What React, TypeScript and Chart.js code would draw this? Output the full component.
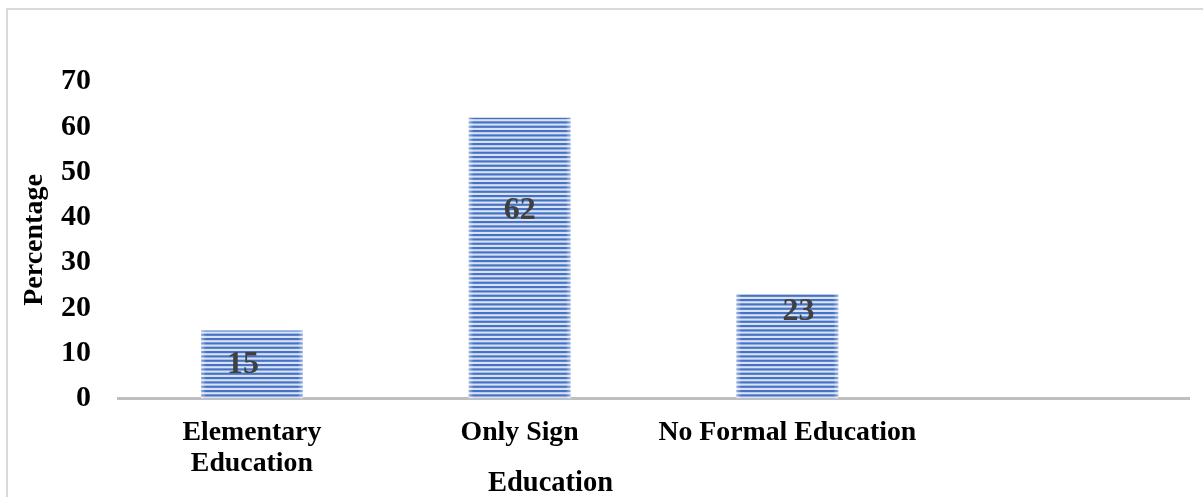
import React, { useEffect, useRef } from "react";
import { Chart, registerables } from "chart.js";

Chart.register(...registerables);

const categories: (string | string[])[] = [
  ["Elementary", "Education"],
  "Only Sign",
  "No Formal Education",
  "",
];
const percentages: (number | null)[] = [15, 62, 23, null];
const yTicks: number[] = [0, 10, 20, 30, 40, 50, 60, 70];

const SERIF = '"Liberation Serif", "Times New Roman", serif';
const BLUE = "#4472C4";
const STRIPE_LIGHT = "#D9E1F2";

// Fine horizontal stripes used as the bar fill.
function makeStripePattern(ctx: CanvasRenderingContext2D): CanvasPattern | string {
  const tile = document.createElement("canvas");
  tile.width = 8;
  tile.height = 13;
  const t = tile.getContext("2d");
  if (!t) return BLUE;
  t.fillStyle = STRIPE_LIGHT;
  t.fillRect(0, 0, 8, 13);
  t.fillStyle = BLUE;
  const period = 13 / 3;
  for (let i = 0; i < 3; i++) {
    t.fillRect(0, i * period, 8, period * 0.5);
  }
  return ctx.createPattern(tile, "repeat") || BLUE;
}

// Value labels on the bars, with small per-bar nudges.
const valueLabels = {
  id: "valueLabels",
  afterDatasetsDraw(chart: any, _args: any, opts: any) {
    const ctx = chart.ctx as CanvasRenderingContext2D;
    const meta = chart.getDatasetMeta(0);
    const values = chart.data.datasets[0].data as (number | null)[];
    ctx.save();
    ctx.font = `bold ${opts.size}px ${SERIF}`;
    ctx.fillStyle = opts.color;
    ctx.textAlign = "center";
    ctx.textBaseline = "middle";
    meta.data.forEach((bar: any, i: number) => {
      const v = values[i];
      if (v == null) return;
      const nudge = opts.nudges[i] || [0, 0];
      const midY = (bar.y + bar.base) / 2;
      ctx.fillText(String(v), bar.x + nudge[0], midY + nudge[1]);
    });
    ctx.restore();
  },
};

// Soft light edges on the left and right side of each bar.
const barEdges = {
  id: "barEdges",
  afterDatasetsDraw(chart: any) {
    const ctx = chart.ctx as CanvasRenderingContext2D;
    const meta = chart.getDatasetMeta(0);
    ctx.save();
    meta.data.forEach((bar: any) => {
      if (bar.skip || bar.y == null || isNaN(bar.y)) return;
      const half = bar.width / 2;
      const left = bar.x - half;
      const right = bar.x + half;
      const top = Math.min(bar.y, bar.base);
      const h = Math.abs(bar.base - bar.y);
      const w = 5;
      const gl = ctx.createLinearGradient(left, 0, left + w, 0);
      gl.addColorStop(0, "rgba(255,255,255,0.45)");
      gl.addColorStop(1, "rgba(255,255,255,0)");
      ctx.fillStyle = gl;
      ctx.fillRect(left, top, w, h);
      const gr = ctx.createLinearGradient(right - w, 0, right, 0);
      gr.addColorStop(0, "rgba(255,255,255,0)");
      gr.addColorStop(1, "rgba(255,255,255,0.45)");
      ctx.fillStyle = gr;
      ctx.fillRect(right - w, top, w, h);
    });
    ctx.restore();
  },
};

// Horizontal axis title, set a little left of the plot centre.
const xAxisTitle = {
  id: "xAxisTitle",
  afterDraw(chart: any, _args: any, opts: any) {
    const ctx = chart.ctx as CanvasRenderingContext2D;
    ctx.save();
    ctx.font = `bold ${opts.size}px ${SERIF}`;
    ctx.fillStyle = opts.color;
    ctx.textAlign = "center";
    ctx.textBaseline = "alphabetic";
    ctx.fillText(opts.text, opts.x, opts.y);
    ctx.restore();
  },
};

export default function App() {
  const canvasRef = useRef<HTMLCanvasElement | null>(null);

  useEffect(() => {
    const canvas = canvasRef.current;
    if (!canvas) return;
    const ctx = canvas.getContext("2d");
    if (!ctx) return;
    const fill = makeStripePattern(ctx);

    const chart = new Chart(ctx, {
      type: "bar",
      data: {
        labels: categories,
        datasets: [
          {
            label: "Percentage",
            data: percentages,
            backgroundColor: fill as any,
            borderWidth: 0,
            categoryPercentage: 1,
            barPercentage: 0.38,
          },
        ],
      },
      plugins: [barEdges, valueLabels, xAxisTitle],
      options: {
        responsive: false,
        animation: false,
        layout: { padding: { top: 81.5, right: 14, bottom: 0, left: 0 } },
        plugins: {
          legend: { display: false },
          tooltip: { enabled: false },
          valueLabels: {
            size: 32,
            color: "#404040",
            nudges: [
              [-9, 0],
              [0, -47],
              [11, -35],
            ],
          },
          xAxisTitle: {
            text: "Education",
            size: 28.5,
            color: "#000000",
            x: 550.5,
            y: 490.7,
          },
        } as any,
        scales: {
          x: {
            grid: { display: false, drawTicks: false },
            border: { display: true, color: "#BFBFBF", width: 3 },
            ticks: {
              color: "#000000",
              font: { family: SERIF, size: 27.8, weight: "bold", lineHeight: 1.115 },
              padding: 19,
              maxRotation: 0,
              autoSkip: false,
            },
            afterFit: (scale: any) => {
              scale.height = 98.5;
            },
          },
          y: {
            min: 0,
            max: 70,
            afterBuildTicks: (scale: any) => {
              scale.ticks = yTicks.map((v) => ({ value: v }));
            },
            grid: { display: false, drawTicks: false },
            border: { display: false },
            ticks: {
              color: "#000000",
              font: { family: SERIF, size: 30, weight: "bold" },
              padding: 27,
            },
            title: {
              display: true,
              text: "Percentage",
              color: "#000000",
              font: { family: SERIF, size: 28, weight: "bold" },
              padding: { top: 18, bottom: 0 },
            },
            afterFit: (scale: any) => {
              scale.width = 118;
            },
          },
        },
      },
    });

    return () => chart.destroy();
  }, []);

  return (
    <div
      style={{
        position: "fixed",
        left: 0,
        top: 0,
        width: 1203,
        height: 497,
        overflow: "hidden",
        background: "#ffffff",
      }}
    >
      <div
        style={{
          position: "absolute",
          left: 6,
          top: 8,
          width: 1400,
          height: 700,
          borderLeft: "2px solid #D9D9D9",
          borderTop: "2px solid #D9D9D9",
        }}
      />
      <canvas
        ref={canvasRef}
        width={1203}
        height={497}
        style={{ position: "absolute", left: 0, top: 0, width: 1203, height: 497 }}
      />
    </div>
  );
}
